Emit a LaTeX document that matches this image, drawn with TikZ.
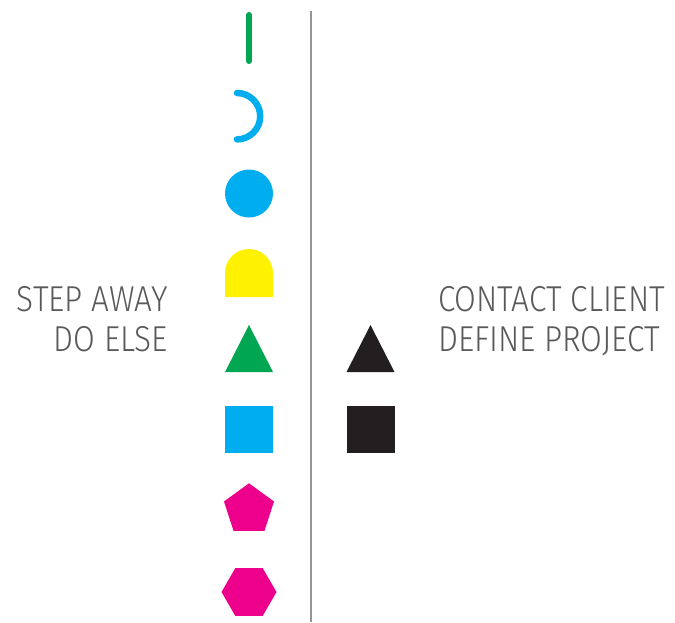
\documentclass[tikz,border=0pt]{standalone}
\usepackage{fontspec}
\newfontfamily\lightfont{Fira Sans Light}[FakeStretch=0.875]
\usetikzlibrary{shapes.geometric}
\definecolor{cgreen}{HTML}{00A651}
\definecolor{ccyan}{HTML}{00AEEF}
\definecolor{cyellow}{HTML}{FFF200}
\definecolor{cmag}{HTML}{EC008C}
\definecolor{cblack}{HTML}{231F20}
\definecolor{cgray}{HTML}{58595B}
\definecolor{cline}{HTML}{939598}
\tikzset{
  lbl/.style={font=\lightfont\fontsize{36}{40}\selectfont, text=cgray, inner sep=0pt},
}
\begin{document}
\begin{tikzpicture}[x=1pt,y=-1pt]
\useasboundingbox (0,0) rectangle (675,622);
% divider
\draw[cline, line width=2pt] (311,11) -- (311,622);
% green line
\draw[cgreen, line width=6pt, line cap=round] (249,15) -- (249,61);
% cyan arc
\draw[ccyan, line width=6.5pt, line cap=round] (237,93) arc[start angle=-90, end angle=90, radius=23.2];
% circle
\fill[ccyan] (249,193.5) circle[radius=24];
% yellow dome
\fill[cyellow] (225,297) -- (225,273) arc[start angle=180, end angle=0, x radius=24, y radius=-24] -- (273,297) -- cycle;
% green triangle
\fill[cgreen] (249,325) -- (273,372) -- (225,372) -- cycle;
% cyan square
\fill[ccyan] (225,406) rectangle (273,453);
% black triangle
\fill[cblack] (370.5,325) -- (394.5,372) -- (346.5,372) -- cycle;
% black square
\fill[cblack] (346.5,406) rectangle (394.5,453);
% pentagon
\node[regular polygon, regular polygon sides=5, minimum size=52.6pt, inner sep=0pt, fill=cmag] (pent) at (249,509.6) {};
% hexagon
\fill[cmag] (221.5,592) -- (235.25,568.2) -- (262.75,568.2) -- (276.5,592) -- (262.75,615.8) -- (235.25,615.8) -- cycle;
% texts
\node[lbl, anchor=base east] (l1) at (168,311) {STEP AWAY};
\node[lbl, anchor=base east] (l2) at (168,351) {DO ELSE};
\node[lbl, anchor=base west] (r1) at (438,311) {CONTACT CLIENT};
\node[lbl, anchor=base west] (r2) at (438,351) {DEFINE PROJECT};
\end{tikzpicture}
\end{document}
